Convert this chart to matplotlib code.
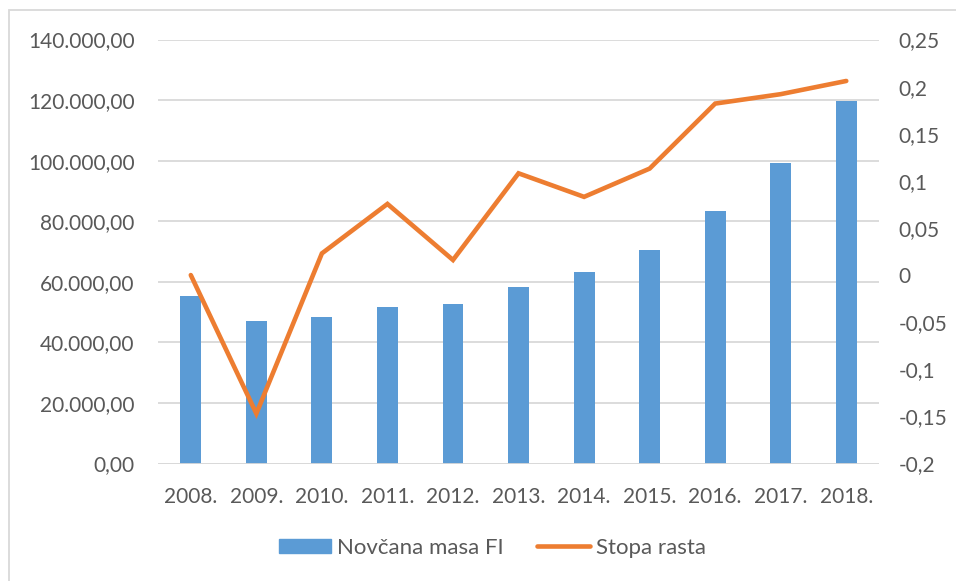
import matplotlib.pyplot as plt
from matplotlib.patches import Rectangle
from matplotlib.lines import Line2D
from matplotlib.patches import Patch

# Podaci
godine = ['2008.', '2009.', '2010.', '2011.', '2012.', '2013.',
          '2014.', '2015.', '2016.', '2017.', '2018.']
novcana_masa = [55200, 46950, 48270, 51780, 52670, 58380,
                63330, 70500, 83370, 99320, 119800]
stopa_rasta = [0.0, -0.147, 0.023, 0.0755, 0.016, 0.108,
               0.083, 0.113, 0.182, 0.192, 0.206]

lijeve_oznake = ['0,00', '20.000,00', '40.000,00', '60.000,00',
                 '80.000,00', '100.000,00', '120.000,00', '140.000,00']
desne_oznake = ['-0,2', '-0,15', '-0,1', '-0,05', '0',
                '0,05', '0,1', '0,15', '0,2', '0,25']

plt.rcParams['font.family'] = ['Lato', 'DejaVu Sans']
siva = '#595959'
velicina = 15

fig = plt.figure(figsize=(9.56, 5.81), dpi=100)
ax = fig.add_axes([0.1653, 0.2022, 0.7542, 0.7298])
ax2 = ax.twinx()

x = list(range(len(godine)))
ax.bar(x, novcana_masa, width=0.32, color='#5b9bd5', zorder=2)
ax.set_ylim(0, 140000)
ax.set_yticks(range(0, 140001, 20000))
ax.set_yticklabels(lijeve_oznake)
ax.set_xlim(-0.5, len(godine) - 0.5)
ax.set_xticks(x)
ax.set_xticklabels(godine)
ax.grid(axis='y', color='#d9d9d9', linewidth=1.3, zorder=0)
ax.set_axisbelow(True)

ax2.plot(x, stopa_rasta, color='#ed7d31', linewidth=3.3,
         solid_capstyle='round', solid_joinstyle='miter', zorder=3)
ax2.set_ylim(-0.2, 0.25)
ax2.set_yticks([i * 0.05 - 0.2 for i in range(10)])
ax2.set_yticklabels(desne_oznake)

for a in (ax, ax2):
    for s in a.spines.values():
        s.set_visible(False)
    a.tick_params(length=0, colors=siva, labelsize=velicina)
ax.tick_params(axis='y', pad=17)
ax.tick_params(axis='x', pad=17)
ax2.tick_params(axis='y', pad=14)
ax2.axhline(-0.2, color='#d9d9d9', linewidth=1.3, zorder=1)

# Okvir oko grafikona
fig.patches.append(Rectangle((8.5 / 956, -0.05), 1.2, (581 - 10) / 581 + 0.05,
                             transform=fig.transFigure, fill=False,
                             edgecolor='#d9d9d9', linewidth=1.3))

rucke = [Patch(color='#5b9bd5', label='Novčana masa FI'),
         Line2D([0], [0], color='#ed7d31', linewidth=3.3,
                solid_capstyle='round', label='Stopa rasta')]
fig.legend(handles=rucke, loc='center', bbox_to_anchor=(0.515, 1 - 548 / 581),
           ncol=2, frameon=False, fontsize=16, labelcolor=siva,
           handlelength=2.35, handleheight=0.63, handletextpad=0.27,
           columnspacing=1.5)

fig.savefig('out.png', dpi=100)
